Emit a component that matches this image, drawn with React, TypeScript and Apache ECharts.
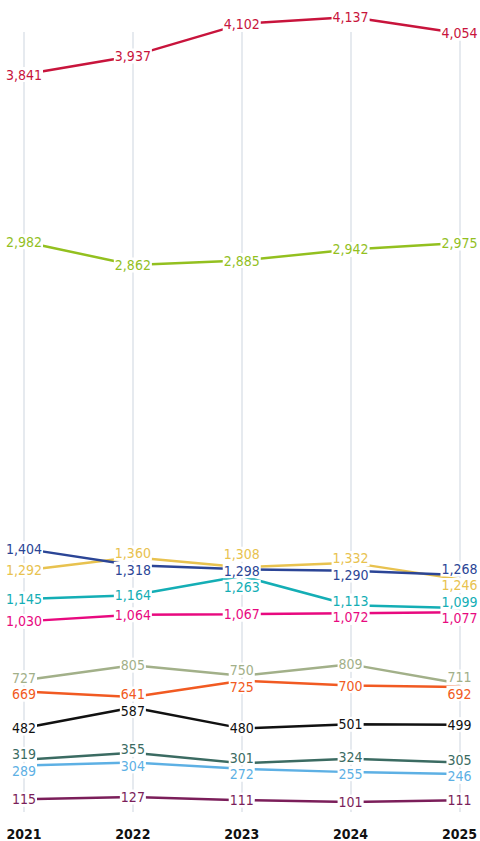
import React, { useEffect, useRef } from 'react';
import * as echarts from 'echarts';

const years = ['2021', '2022', '2023', '2024', '2025'];

const crimson = [3841, 3937, 4102, 4137, 4054];
const lime = [2982, 2862, 2885, 2942, 2975];
const navy = [1404, 1318, 1298, 1290, 1268];
const gold = [1292, 1360, 1308, 1332, 1246];
const teal = [1145, 1164, 1263, 1113, 1099];
const magenta = [1030, 1064, 1067, 1072, 1077];
const sage = [727, 805, 750, 809, 711];
const orange = [669, 641, 725, 700, 692];
const black = [482, 587, 480, 501, 499];
const pine = [319, 355, 301, 324, 305];
const sky = [289, 304, 272, 255, 246];
const plum = [115, 127, 111, 101, 111];

const SERIES = [
  { name: 'crimson', data: crimson, color: '#c8143c' },
  { name: 'lime', data: lime, color: '#93c01f' },
  { name: 'gold', data: gold, color: '#e8c24f' },
  { name: 'navy', data: navy, color: '#2b4596' },
  { name: 'teal', data: teal, color: '#14aeb5' },
  { name: 'magenta', data: magenta, color: '#e8097f' },
  { name: 'sage', data: sage, color: '#a2b089' },
  { name: 'orange', data: orange, color: '#f15a22' },
  { name: 'black', data: black, color: '#111111' },
  { name: 'pine', data: pine, color: '#3b6b62' },
  { name: 'sky', data: sky, color: '#5db0e4' },
  { name: 'plum', data: plum, color: '#7b1e5a' },
];

const FONT = "'DejaVu Sans Condensed', 'Liberation Sans Narrow', 'Roboto', sans-serif";
const GAP = 16.5;

const fmt = (v: number) => v.toLocaleString('en-US');

function spread(ys: number[], gap: number): number[] {
  const idx = ys.map((_, i) => i).sort((a, b) => ys[a] - ys[b]);
  const clusters = idx.map((i) => ({ members: [i], center: ys[i] }));
  let changed = true;
  while (changed) {
    changed = false;
    for (let k = 0; k < clusters.length - 1; k++) {
      const a = clusters[k];
      const b = clusters[k + 1];
      const aEnd = a.center + ((a.members.length - 1) * gap) / 2;
      const bStart = b.center - ((b.members.length - 1) * gap) / 2;
      if (bStart - aEnd < gap) {
        const members = a.members.concat(b.members);
        const center = members.reduce((s, i) => s + ys[i], 0) / members.length;
        clusters.splice(k, 2, { members, center });
        changed = true;
        break;
      }
    }
  }
  const out: number[] = new Array(ys.length).fill(0);
  clusters.forEach((c) => {
    const start = c.center - ((c.members.length - 1) * gap) / 2;
    c.members.forEach((i, j) => {
      out[i] = start + j * gap;
    });
  });
  return out;
}

function buildSeries(offsets: number[][] | null) {
  return SERIES.map((s, si) => ({
    name: s.name,
    type: 'line',
    clip: false,
    silent: true,
    symbol: 'circle',
    symbolSize: 1,
    showSymbol: true,
    itemStyle: { color: s.color },
    lineStyle: { color: s.color, width: 2.5 },
    emphasis: { disabled: true },
    data: s.data.map((v, i) => ({
      value: v,
      label: { offset: [0, offsets ? offsets[si][i] : 0] },
    })),
    label: {
      show: true,
      position: 'inside',
      formatter: (p: any) => fmt(p.value),
      color: s.color,
      fontFamily: FONT,
      fontSize: 14,
      lineHeight: 15,
      backgroundColor: '#ffffff',
      padding: [0, 1],
    },
  }));
}

export default function App() {
  const ref = useRef<HTMLDivElement>(null);
  useEffect(() => {
    document.body.style.margin = '0';
    if (!ref.current) return;
    const chart = echarts.init(ref.current, undefined, { renderer: 'svg' });
    const base: any = {
      animation: false,
      backgroundColor: '#ffffff',
      grid: { left: 24, right: 18, top: 32, bottom: 29 },
      xAxis: {
        type: 'category',
        data: years,
        boundaryGap: false,
        axisLine: { show: false },
        axisTick: { show: false },
        axisLabel: {
          interval: 0,
          fontFamily: FONT,
          fontWeight: 'bold',
          fontSize: 14,
          color: '#111111',
          margin: 15,
        },
        splitLine: { show: true, interval: 0, lineStyle: { color: '#e6eaef', width: 2 } },
      },
      yAxis: { type: 'value', min: 50, max: 4060, show: false },
      series: buildSeries(null),
    };
    chart.setOption(base);
    const offsets: number[][] = SERIES.map(() => years.map(() => 0));
    years.forEach((_, i) => {
      const ys = SERIES.map((s) => {
        const p = chart.convertToPixel({ xAxisIndex: 0, yAxisIndex: 0 }, [i, s.data[i]]) as number[];
        return p[1];
      });
      const placed = spread(ys, GAP);
      SERIES.forEach((_, si) => {
        offsets[si][i] = placed[si] - ys[si];
      });
    });
    chart.setOption({ series: buildSeries(offsets) });
    return () => chart.dispose();
  }, []);
  return <div ref={ref} style={{ width: 480, height: 841 }} />;
}
